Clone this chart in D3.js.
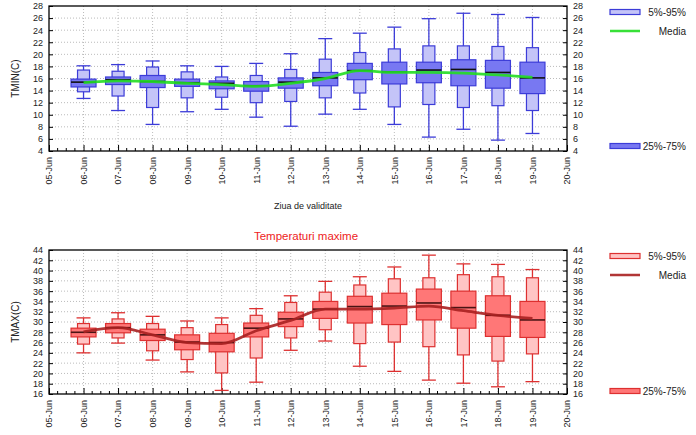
<!DOCTYPE html>
<html><head><meta charset="utf-8">
<script src="https://cdn.jsdelivr.net/npm/d3@7"></script>
<style>body{margin:0;background:#fff}svg{display:block;font-family:"Liberation Sans",Arial,sans-serif}</style>
</head><body><svg id="c" width="696" height="435"></svg>
<script>
const days = ["06-Jun","07-Jun","08-Jun","09-Jun","10-Jun","11-Jun","12-Jun","13-Jun","14-Jun","15-Jun","16-Jun","17-Jun","18-Jun","19-Jun"];
const axisDays = ["05-Jun","06-Jun","07-Jun","08-Jun","09-Jun","10-Jun","11-Jun","12-Jun","13-Jun","14-Jun","15-Jun","16-Jun","17-Jun","18-Jun","19-Jun","20-Jun"];
// TMIN
const tminP5  = [13.8,13.1,11.2,12.8,12.9,12.0,12.2,12.8,13.6,11.3,11.7,11.2,11.5,10.7];
const tminP25 = [14.6,15.0,14.5,14.7,14.3,13.9,14.4,14.8,15.8,15.1,15.3,14.8,14.4,13.5];
const tminMed = [15.4,15.8,15.5,15.3,15.2,14.8,15.4,16.1,17.3,17.1,17.4,17.5,17.0,16.1];
const tminP75 = [15.9,16.25,16.5,15.9,15.6,15.5,16.1,17.0,18.5,18.7,18.7,19.1,19.0,18.7];
const tminP95 = [17.4,17.2,17.9,17.1,16.25,16.5,17.5,19.2,20.3,20.9,21.4,21.4,21.3,21.1];
const tminMin = [12.7,10.7,8.4,10.5,10.9,9.6,8.1,10.1,10.9,8.4,6.3,7.6,5.8,6.9];
const tminMax = [18.1,18.3,18.9,18.1,18.0,18.5,20.1,22.6,23.5,24.5,25.9,26.8,26.6,26.1];
const tminMean = [15.3,15.6,15.5,15.2,15.0,14.7,15.2,16.0,17.3,17.0,17.0,16.9,16.6,16.2];
const tminTicks = [4,6,8,10,12,14,16,18,20,22,24,26,28];
// TMAX
const tmaxP5  = [25.7,26.9,24.4,22.7,20.1,23.0,26.9,28.5,25.8,26.1,25.2,23.6,22.4,23.8];
const tmaxP25 = [27.1,27.9,26.4,24.6,24.2,27.1,29.1,30.7,29.8,29.5,30.4,28.8,27.2,27.0];
const tmaxMed = [28.0,28.9,27.5,26.1,26.0,28.8,30.6,32.5,33.0,33.1,33.7,32.8,31.3,30.4];
const tmaxP75 = [28.8,29.7,28.6,27.5,27.8,29.8,31.9,34.0,35.0,35.6,36.4,36.0,35.1,34.0];
const tmaxP95 = [29.7,30.6,29.7,28.9,29.5,31.3,33.8,35.8,37.2,38.4,38.6,39.2,38.8,38.6];
const tmaxMin = [24.0,25.9,22.6,20.3,16.7,18.3,24.5,26.3,21.4,20.4,18.7,18.1,17.4,18.4];
const tmaxMax = [30.8,31.8,31.1,30.2,30.8,32.6,35.1,37.9,38.8,40.7,43.0,41.3,41.2,40.2];
const tmaxMean = [28.1,28.9,27.5,26.0,25.8,28.3,30.3,32.5,32.5,32.7,33.1,32.2,31.3,30.7];
const tmaxTicks = [16,18,20,22,24,26,28,30,32,34,36,38,40,42,44];

const svg = d3.select("#c");
const L = 49, R = 567;
const x = d3.scaleLinear().domain([0, 15]).range([L, R]);

function panel(o) {
  const y = d3.scaleLinear().domain(o.dom).range([o.bottom, o.top]);
  const g = svg.append("g");
  // grid
  g.append("g").selectAll("line").data(d3.range(1,15)).join("line")
    .attr("x1", d => x(d)).attr("x2", d => x(d)).attr("y1", o.top).attr("y2", o.bottom)
    .attr("stroke", "#aaa").attr("stroke-width", 0.8).attr("stroke-dasharray", "1,2");
  g.append("g").selectAll("line").data(o.ticks.slice(1, -1)).join("line")
    .attr("x1", L).attr("x2", R).attr("y1", d => y(d)).attr("y2", d => y(d))
    .attr("stroke", "#aaa").attr("stroke-width", 0.8).attr("stroke-dasharray", "1,2");
  // axes
  const ax = g.append("g").attr("font-size", 9).attr("fill", "#000");
  const yl = d3.axisLeft(y).tickValues(o.ticks).tickSize(-4).tickPadding(6).tickFormat(d3.format("d"));
  const yr = d3.axisRight(y).tickValues(o.ticks).tickSize(-4).tickPadding(6).tickFormat(d3.format("d"));
  const gl = g.append("g").attr("transform", `translate(${L},0)`).call(yl);
  const gr = g.append("g").attr("transform", `translate(${R},0)`).call(yr);
  [gl, gr].forEach(a => { a.select(".domain").remove(); a.selectAll("text").attr("font-size", 9).attr("font-family", "Liberation Sans, Arial").attr("fill", "#222"); a.selectAll("line").attr("stroke", "#000"); });
  // minor x ticks
  const minor = d3.range(0, 60).filter(i => i % 4 !== 0).map(i => i / 4);
  g.append("g").selectAll("line").data(minor).join("line")
    .attr("x1", d => x(d)).attr("x2", d => x(d)).attr("y1", o.bottom).attr("y2", o.bottom - 3)
    .attr("stroke", "#000").attr("stroke-width", 1);
  const xa = d3.axisBottom(x).tickValues(d3.range(0, 16)).tickSize(-6).tickPadding(6)
    .tickFormat(d => axisDays[d]);
  const gx = g.append("g").attr("transform", `translate(0,${o.bottom})`).call(xa);
  gx.select(".domain").remove();
  gx.selectAll("line").attr("stroke", "#000");
  gx.selectAll("text").attr("font-size", 9).attr("font-family", "Liberation Sans, Arial").attr("fill", "#222")
    .attr("transform", "rotate(-90)").attr("text-anchor", "end").attr("dx", "-6").attr("dy", "0.32em").attr("x", 0).attr("y", 0);
  // boxes
  const bw = 25, ow = 12;
  const bx = g.append("g");
  days.forEach((dname, i) => {
    const cx = x(i + 1);
    bx.append("line").attr("x1", cx).attr("x2", cx).attr("y1", y(o.mx[i])).attr("y2", y(o.mn[i]))
      .attr("stroke", o.stroke).attr("stroke-width", 1.3);
    [o.mx[i], o.mn[i]].forEach(v => bx.append("line").attr("x1", cx - ow/2 - 1).attr("x2", cx + ow/2 + 1)
      .attr("y1", y(v)).attr("y2", y(v)).attr("stroke", o.stroke).attr("stroke-width", 1.3));
    bx.append("rect").attr("x", cx - ow/2).attr("width", ow).attr("y", y(o.p95[i])).attr("height", y(o.p5[i]) - y(o.p95[i]))
      .attr("fill", o.light).attr("stroke", o.stroke).attr("stroke-width", 1.2);
    bx.append("rect").attr("x", cx - bw/2).attr("width", bw).attr("y", y(o.p75[i])).attr("height", y(o.p25[i]) - y(o.p75[i]))
      .attr("fill", o.dark).attr("stroke", o.stroke).attr("stroke-width", 1.2);
    bx.append("line").attr("x1", cx - bw/2).attr("x2", cx + bw/2).attr("y1", y(o.med[i])).attr("y2", y(o.med[i]))
      .attr("stroke", o.medc).attr("stroke-width", 1.6);
  });
  // mean line
  const line = d3.line().x((d, i) => x(i + 1)).y(d => y(d)).curve(d3.curveMonotoneX);
  g.append("path").datum(o.mean).attr("d", line).attr("fill", "none").attr("stroke", o.meanc)
    .attr("stroke-width", 2.8).attr("stroke-opacity", o.meanOp);
  // frame
  g.append("rect").attr("x", L).attr("y", o.top).attr("width", R - L).attr("height", o.bottom - o.top)
    .attr("fill", "none").attr("stroke", "#000").attr("stroke-width", 1.3);
  // y title
  g.append("text").attr("transform", `translate(19,${(o.top + o.bottom) / 2}) rotate(-90)`)
    .attr("text-anchor", "middle").attr("font-size", 10).attr("fill", "#222").text(o.ytitle);
  // legend
  const lg = g.append("g").attr("font-size", 10).attr("fill", "#222");
  lg.append("rect").attr("x", 610).attr("y", o.leg[0] - 2.5).attr("width", 30).attr("height", 5)
    .attr("fill", o.light).attr("stroke", o.stroke).attr("stroke-width", 1.2);
  lg.append("text").attr("x", 686).attr("y", o.leg[0]).attr("dy", "0.35em").attr("text-anchor", "end").text("5%-95%");
  lg.append("line").attr("x1", 610).attr("x2", 640).attr("y1", o.leg[1]).attr("y2", o.leg[1])
    .attr("stroke", o.meanc).attr("stroke-width", 2.5).attr("stroke-opacity", o.meanOp);
  lg.append("text").attr("x", 686).attr("y", o.leg[1]).attr("dy", "0.35em").attr("text-anchor", "end").text("Media");
  lg.append("rect").attr("x", 610).attr("y", o.leg[2] - 2.5).attr("width", 30).attr("height", 5)
    .attr("fill", o.dark).attr("stroke", o.stroke).attr("stroke-width", 1.2);
  lg.append("text").attr("x", 686).attr("y", o.leg[2]).attr("dy", "0.35em").attr("text-anchor", "end").text("25%-75%");
}

panel({dom: [4, 28], top: 6, bottom: 151, ticks: tminTicks,
  p5: tminP5, p25: tminP25, med: tminMed, p75: tminP75, p95: tminP95, mn: tminMin, mx: tminMax, mean: tminMean,
  light: "#c4c4f8", dark: "#7878f2", stroke: "#3c3cd8", medc: "#111", meanc: "#22dd22", meanOp: 0.9,
  ytitle: "TMIN(C)", leg: [12, 31, 146]});
panel({dom: [16, 44], top: 250, bottom: 394, ticks: tmaxTicks,
  p5: tmaxP5, p25: tmaxP25, med: tmaxMed, p75: tmaxP75, p95: tmaxP95, mn: tmaxMin, mx: tmaxMax, mean: tmaxMean,
  light: "#ffc4c4", dark: "#ff7777", stroke: "#dd3030", medc: "#4a1414", meanc: "#a82020", meanOp: 0.9,
  ytitle: "TMAX(C)", leg: [256, 275, 391]});

svg.append("text").attr("x", 308).attr("y", 206).attr("dy", "0.35em").attr("text-anchor", "middle")
  .attr("font-size", 9).attr("fill", "#222").text("Ziua de validitate");
svg.append("text").attr("x", 306).attr("y", 236).attr("dy", "0.35em").attr("text-anchor", "middle")
  .attr("font-size", 11.5).attr("fill", "#ee2222").text("Temperaturi maxime");
</script></body></html>
